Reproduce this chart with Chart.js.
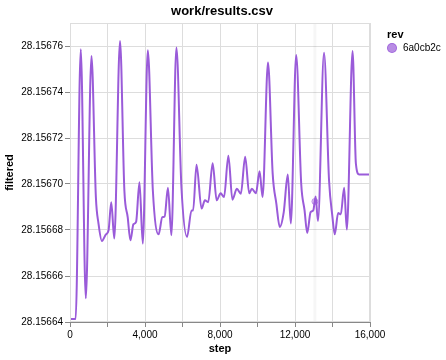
<!DOCTYPE html>
<html>
<head>
<meta charset="utf-8">
<script src="https://cdn.jsdelivr.net/npm/chart.js@4/dist/chart.umd.min.js"></script>
<style>
  body{margin:0;background:#fff;font-family:"Liberation Sans",Arial,sans-serif}
  #wrap{position:relative;width:446px;height:360px}
  #title{position:absolute;left:0;width:444px;top:3px;text-align:center;font-weight:bold;font-size:13px;color:#000}
  #legT{position:absolute;left:387px;top:28px;font-weight:bold;font-size:11px}
  #legI{position:absolute;left:387px;top:42px;font-size:10px;line-height:12px}
  #legI span.dot{display:inline-block;width:10px;height:10px;border-radius:50%;background:rgba(154,91,217,.7);border:1px solid rgba(154,91,217,.8);box-sizing:border-box;vertical-align:-2px;margin-right:6px}
</style>
</head>
<body>
<div id="wrap">
  <canvas id="c" width="446" height="360"></canvas>
  <div id="title">work/results.csv</div>
  <div id="legT">rev</div>
  <div id="legI"><span class="dot"></span>6a0cb2c</div>
</div>
<script>
const steps=[0,300,574,843,1145,1380,1520,1700,1915,2057,2200,2362,2668,2900,3077,3222,3383,3525,3705,3882,4150,4419,4725,4923,5047,5224,5406,5675,5943,6244,6480,6567,6748,7017,7195,7372,7608,7823,8035,8215,8447,8662,8898,9113,9342,9557,9700,9915,10110,10271,10560,10810,11007,11185,11400,11615,11776,12063,12331,12510,12654,12832,12975,13100,13225,13548,13816,13998,14121,14300,14443,14620,14765,15070,15248,15425,16000];
const filtered=[28.1566413,28.1566413,28.1567586,28.1566503,28.1567557,28.1566943,28.1566828,28.1566752,28.1566781,28.1566799,28.1566921,28.1566763,28.1567622,28.1566972,28.1566856,28.1566755,28.1566825,28.1566835,28.1567008,28.1566741,28.1567581,28.1566972,28.1566781,28.1566856,28.1566859,28.1566984,28.1566777,28.1567593,28.1566986,28.1566770,28.1566885,28.1566885,28.1567084,28.1566893,28.1566929,28.1566921,28.1567090,28.1566929,28.1566960,28.1566943,28.1567123,28.1566932,28.1566979,28.1566958,28.1567119,28.1566960,28.1566979,28.1566960,28.1567055,28.1566943,28.1567528,28.1567044,28.1566914,28.1566813,28.1566878,28.1567041,28.1566828,28.1567561,28.1567001,28.1566885,28.1566787,28.1566878,28.1566885,28.1566946,28.1566839,28.1567571,28.1567015,28.1566856,28.1566781,28.1566874,28.1566868,28.1566984,28.1566802,28.1567578,28.1567088,28.1567041,28.1567041];
const yTicks=[28.15664,28.15666,28.15668,28.1567,28.15672,28.15674,28.15676];
const xTicks=[0,2000,4000,6000,8000,10000,12000,14000,16000];
const hoverStep=13060, hoverVal=28.1566924;

const FONT='"Liberation Sans", Arial, sans-serif';
const frame={id:'frame',afterDraw(ch){const a=ch.chartArea,x=ch.ctx;x.save();x.strokeStyle='#ddd';x.lineWidth=1;x.strokeRect(a.left+.5,a.top+.5,a.right-a.left-1,a.bottom-a.top-1);x.restore();}};

new Chart(document.getElementById('c'),{
  type:'line',
  data:{datasets:[
    {data:[{x:hoverStep,y:28.15664},{x:hoverStep,y:28.15677}],borderColor:'rgba(0,0,0,0.035)',borderWidth:3,pointRadius:0,order:2},
    {data:steps.map((s,i)=>({x:s,y:filtered[i]})),borderColor:'#9a5bd9',borderWidth:2,pointRadius:0,cubicInterpolationMode:'monotone',order:1},
    {data:[{x:hoverStep,y:hoverVal}],showLine:false,pointRadius:3,pointBackgroundColor:'rgba(154,91,217,0.35)',pointBorderColor:'rgba(154,91,217,0.55)',order:0}
  ]},
  options:{
    responsive:false,animation:false,
    layout:{padding:{top:23,right:76,left:0,bottom:0}},
    plugins:{legend:{display:false},tooltip:{enabled:false}},
    scales:{
      x:{type:'linear',min:0,max:16000,
        afterBuildTicks(s){s.ticks=xTicks.map(v=>({value:v}));},
        afterFit(s){s.height=38;},
        ticks:{autoSkip:false,maxRotation:0,padding:2,color:'#000',font:{family:FONT,size:10},callback:v=>v%4000===0?v.toLocaleString('en-US'):''},
        grid:{color:'#ddd',tickColor:'#888',tickLength:5},
        border:{color:'#888'},
        title:{display:true,text:'step',color:'#000',font:{family:FONT,size:11,weight:'bold'},padding:{top:0}}
      },
      y:{type:'linear',min:28.15664,max:28.15677,
        afterBuildTicks(s){s.ticks=yTicks.map(v=>({value:v}));},
        afterFit(s){s.width=70;},
        ticks:{padding:2,color:'#000',font:{family:FONT,size:10},callback:v=>v.toFixed(5)},
        grid:{color:'#ddd',tickColor:'#888',tickLength:5},
        border:{color:'#888'},
        title:{display:true,text:'filtered',color:'#000',font:{family:FONT,size:11,weight:'bold'},padding:{top:3,bottom:0}}
      }
    }
  },
  plugins:[frame]
});
</script>
</body>
</html>
